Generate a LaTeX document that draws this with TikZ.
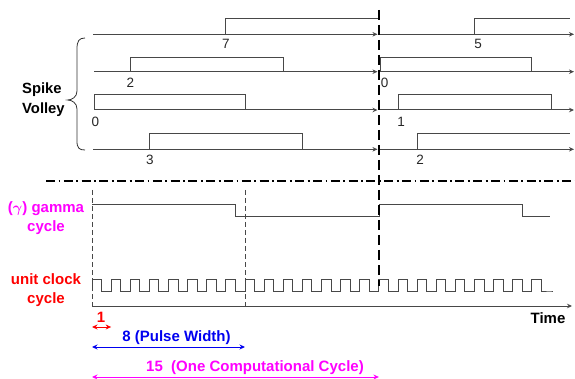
\documentclass[tikz,border=0pt]{standalone}
\usepackage{fontspec}
\setmainfont{Liberation Sans}
\usetikzlibrary{arrows.meta}
\definecolor{wave}{HTML}{484848}
\definecolor{mag}{HTML}{FF00FF}
\definecolor{clkred}{HTML}{FF0000}
\definecolor{pwblue}{HTML}{0000F0}

\begin{document}
\begin{tikzpicture}[x=1pt,y=-1pt,
  wire/.style={draw=wave,line width=1pt},
  tip/.style={-{Stealth[length=5pt,width=4.5pt]}},
  dimarrow/.style={line width=1pt,{Stealth[length=5.5pt,width=5pt]}-{Stealth[length=5.5pt,width=5pt]}},
  bigtxt/.style={font=\fontsize{15}{19}\selectfont\bfseries\boldmath,inner sep=0pt},
  numtxt/.style={font=\fontsize{13.5}{15}\selectfont,inner sep=0pt,text=black!85},
  cycleline/.style={line width=1.6pt,dash pattern=on 10pt off 5pt},
  unitline/.style={draw=wave,line width=0.8pt,dash pattern=on 5pt off 3pt},
  sepline/.style={line width=1.4pt,dash pattern=on 9pt off 3.5pt on 1.8pt off 3.5pt}]
\useasboundingbox (0,0) rectangle (575,379);
\def\u{19.125}

% time marks: start, pulse width, end of a computational cycle
\coordinate (t0) at (92,0);
\coordinate (t8) at (92+8*\u,0);
\coordinate (t15) at (92+15*\u,0);

% ---- spike volley: four input lines, two computational cycles ----
% line 1
\draw[wire,tip] (93,34.3) -- (377.5,34.3);
\draw[wire,tip] (379,34.3) -- (574,34.3);
\draw[wire] (92+7*\u,34.3) |- (379,18.3);
\draw[wire] (92+20*\u,34.3) |- (570,18.3);
\node[numtxt] (n7) at (226,43.5) {7};
\node[numtxt] (n5) at (478,43.5) {5};
% line 2
\draw[wire,tip] (94,71.7) -- (377.5,71.7);
\draw[wire,tip] (379,71.7) -- (574,71.7);
\draw[wire] (92+2*\u,71.7) |- (92+10*\u,57.3) -- (92+10*\u,71.7);
\draw[wire] (380,71.7) |- (92+23*\u,57.3) -- (92+23*\u,71.7);
\node[numtxt] (n2a) at (130.5,83) {2};
\node[numtxt] (n0b) at (384.5,83) {0};
% line 3
\draw[wire,tip] (94,110) -- (377.5,110);
\draw[wire,tip] (379,110) -- (574,110);
\draw[wire] (94,110) |- (92+8*\u,95) -- (92+8*\u,110);
\draw[wire] (92+16*\u,110) |- (92+24*\u,95) -- (92+24*\u,110);
\node[numtxt] (n0a) at (95.5,122) {0};
\node[numtxt] (n1) at (401,122) {1};
% line 4
\draw[wire,tip] (93,149.3) -- (377.5,149.3);
\draw[wire,tip] (379,149.3) -- (574,149.3);
\draw[wire] (92+3*\u,149.3) |- (92+11*\u,133.3) -- (92+11*\u,149.3);
\draw[wire] (92+17*\u,149.3) |- (570,133.3);
\node[numtxt] (n3) at (150,160) {3};
\node[numtxt] (n2b) at (420,160) {2};

% brace grouping the spike lines
\draw[line width=0.8pt,draw=black!80] (85,38) .. controls (79,38) and (77,41) .. (77,49)
  -- (77,91) .. controls (77,97) and (72,100) .. (67.5,100)
  .. controls (72,100) and (77,103) .. (77,109)
  -- (77,141) .. controls (77,148) and (79,150) .. (85,150);
\node[bigtxt,anchor=west,align=left,font=\fontsize{14.8}{20}\selectfont\bfseries] (volley) at (22,100) {Spike\\Volley};

% separator between input lines and clocks
\draw[sepline] (46,181) -- (575,181);

% ---- gamma cycle ----
\draw[wire] (92,205) -- (92+7.5*\u,205) -- (92+7.5*\u,217) -- (379,217)
  -- (379,205) -- (92+22.5*\u,205) -- (92+22.5*\u,217) -- (550,217);
\node[bigtxt,text=mag,align=center] (gamma) at (46,218.5) {($\gamma$) gamma\\cycle};

% ---- unit clock ----
\draw[wire] (92,291) foreach \k in {1,...,24} { -- ++(0,-12) -- ++(\u/2,0) -- ++(0,12) -- ++(\u/2,0) } -- ++(2,0);
\node[bigtxt,text=clkred,align=center] (clock) at (46,290) {unit clock\\cycle};

% time axis
\draw[wire,tip] (92,306) -- (572,306);
\node[bigtxt] (time) at (548,318) {Time};

% unit and pulse-width guides
\draw[unitline] (t0 |- 0,190) -- (t0 |- 0,306);
\draw[unitline] (t8 |- 0,190) -- (t8 |- 0,306);
% boundary of the computational cycle
\draw[cycleline] (t15 |- 0,10) -- (t15 |- 0,286);

% ---- dimensions ----
\draw[dimarrow,clkred] (t0 |- 0,327) -- (92+\u,327);
\node[bigtxt,text=clkred] (one) at (101,317) {1};
\draw[dimarrow,pwblue] (t0 |- 0,347) -- (t8 |- 0,347);
\node[bigtxt,text=pwblue] (pw) at (176.5,338) {8 (Pulse Width)};
\draw[dimarrow,mag] (t0 |- 0,377) -- (t15 |- 0,377);
\node[bigtxt,text=mag] (cc) at (255,367.5) {15\ \ (One Computational Cycle)};
\end{tikzpicture}
\end{document}
